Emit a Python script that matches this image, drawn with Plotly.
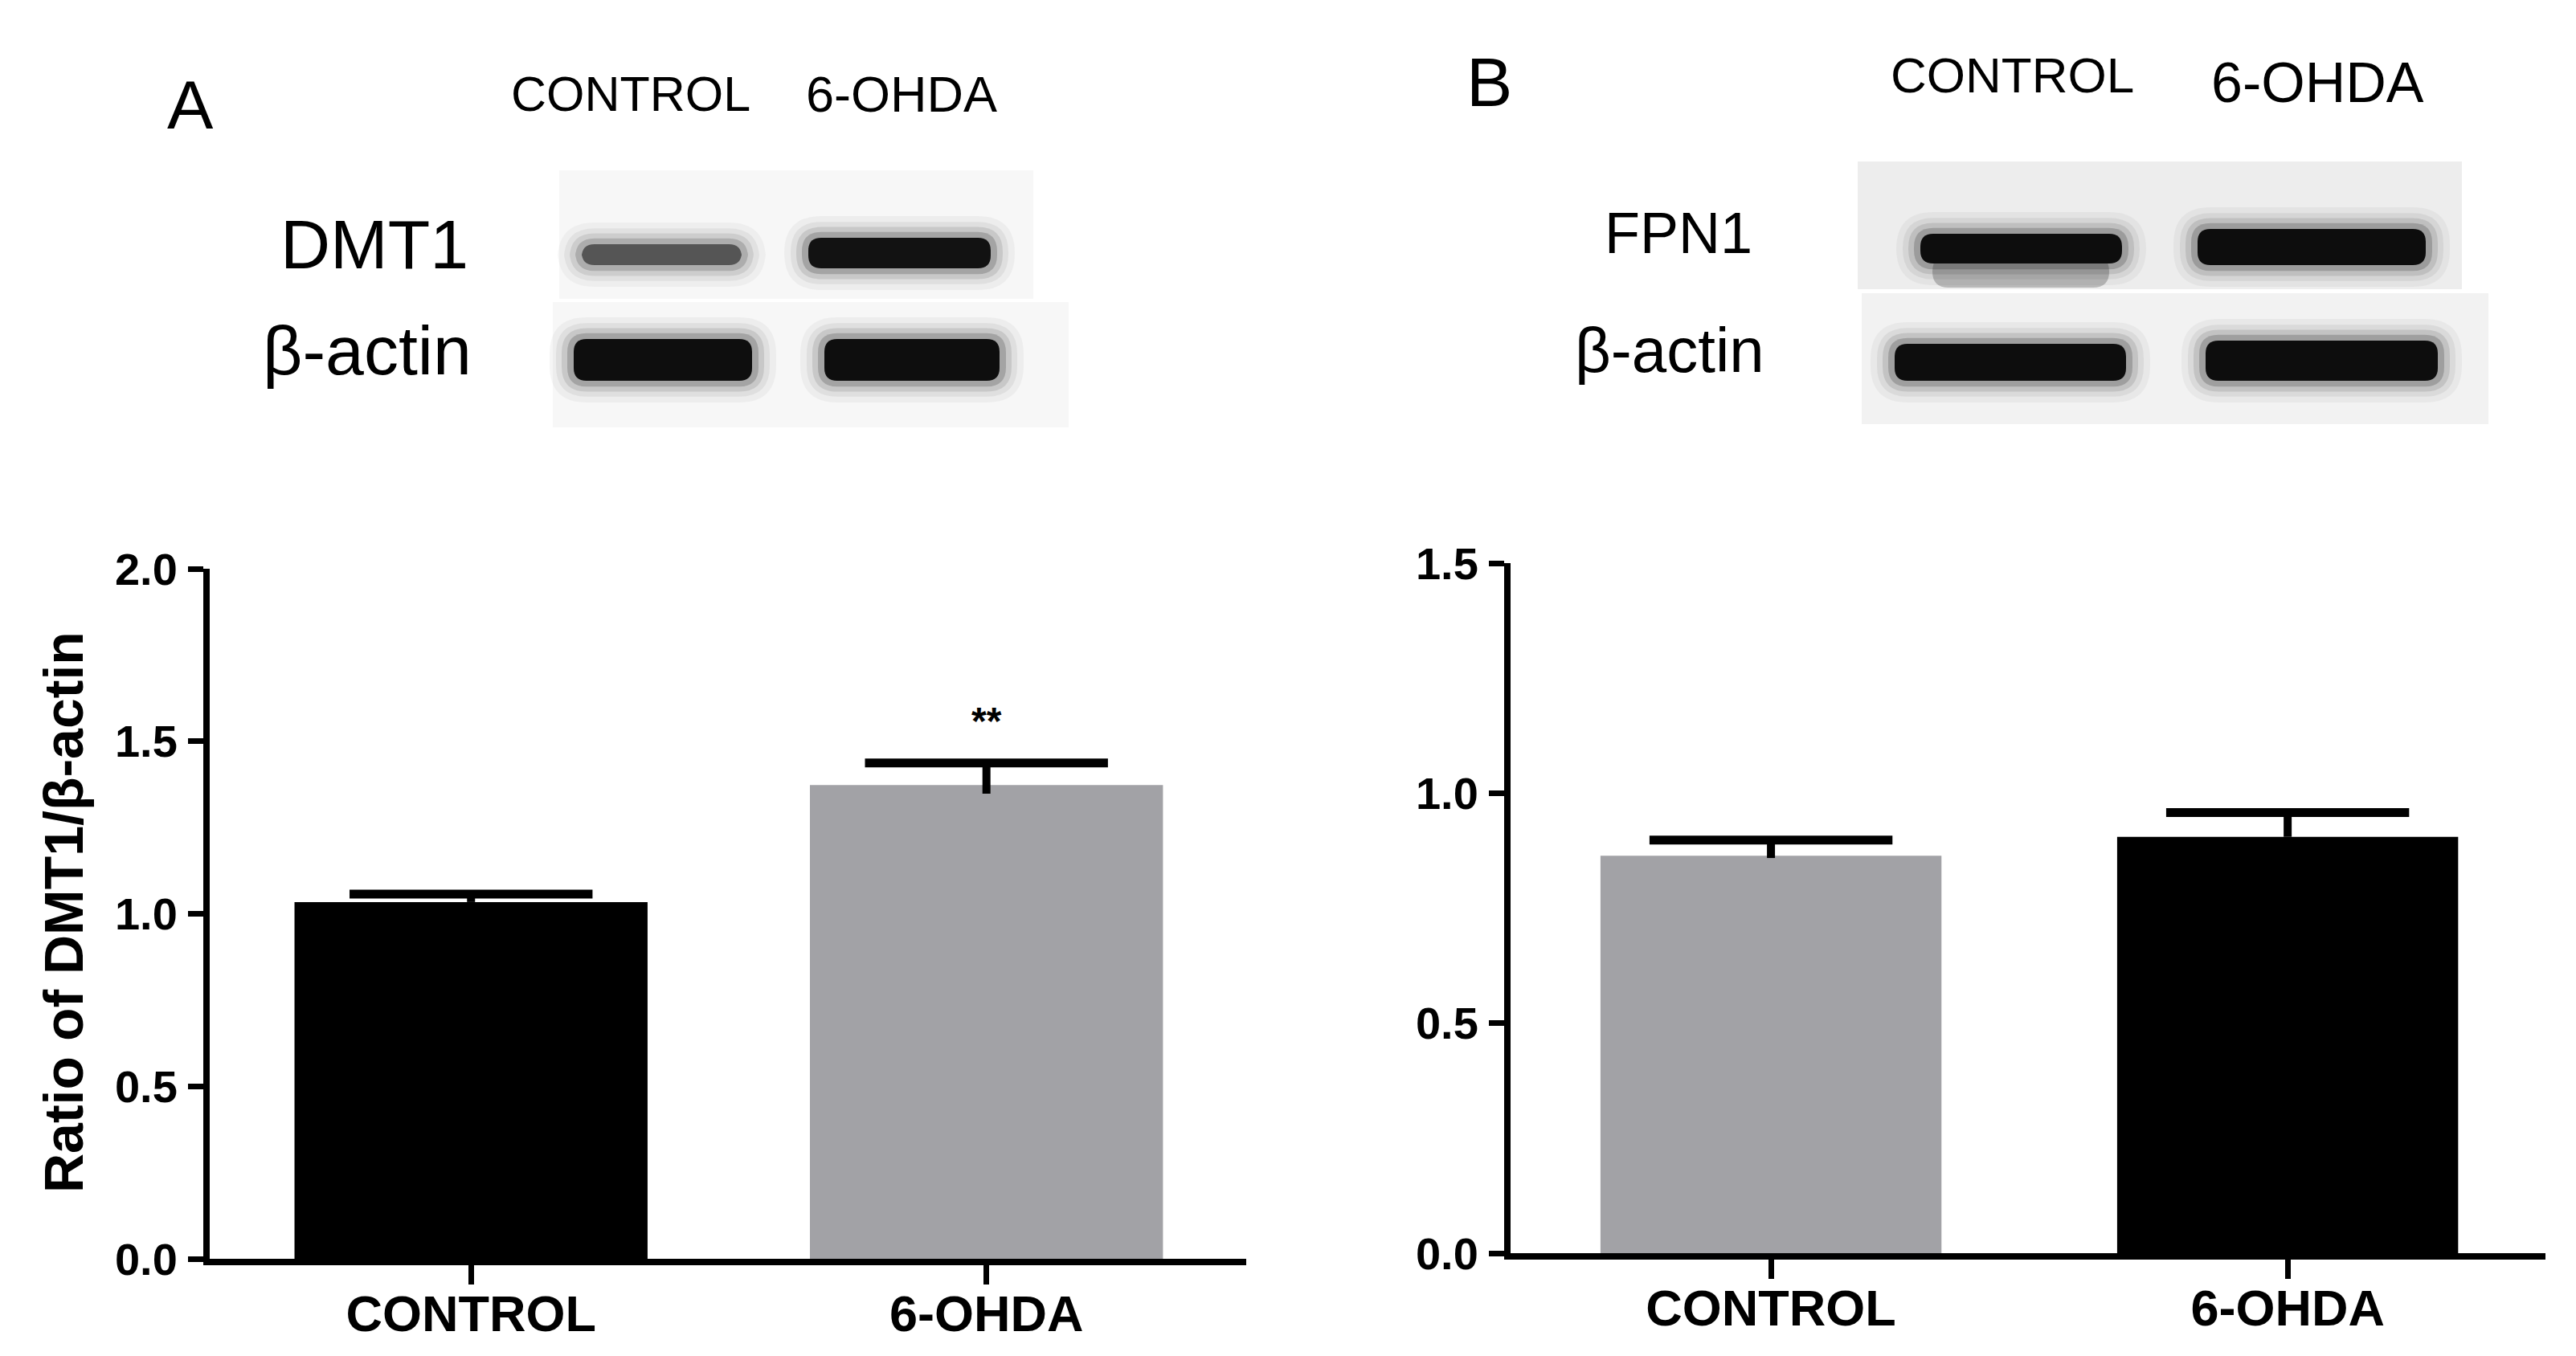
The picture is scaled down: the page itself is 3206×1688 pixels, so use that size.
import plotly.graph_objects as go

W, H = 3206, 1688

# ---------------- data ----------------
categories = ["CONTROL", "6-OHDA"]
dmt1_ratio = [1.034, 1.373]
dmt1_err_plus = [0.023, 0.064]
dmt1_err_below = [0.0, 0.025]     # visible part of the stem below the bar top
fpn1_ratio = [0.864, 0.905]
fpn1_err_plus = [0.034, 0.053]
fpn1_err_below = [0.005, 0.0]
dmt1_ticks = [0.0, 0.5, 1.0, 1.5, 2.0]
fpn1_ticks = [0.0, 0.5, 1.0, 1.5]
significance = ["", "**"]

BLACK = "#000000"
GRAY = "#a2a2a6"
FONT = "Liberation Sans, Arial, sans-serif"


def px(x):
    return x / W


def py(y):
    return 1 - y / H


fig = go.Figure()


def add_panel(vals, plus, below, colors, width, cap_half, xa, ya):
    fig.add_trace(go.Bar(
        x=categories, y=vals, xaxis=xa, yaxis=ya,
        marker=dict(color=colors, line=dict(width=0)),
        width=width, showlegend=False, hoverinfo="skip",
    ))
    tops = [v + p for v, p in zip(vals, plus)]
    fig.add_trace(go.Scatter(
        x=categories, y=tops, xaxis=xa, yaxis=ya, mode="markers",
        marker=dict(symbol="line-ew", size=2 * cap_half,
                    line=dict(width=11, color="black"), color="black"),
        error_y=dict(type="data", symmetric=False, array=[0] * len(vals),
                     arrayminus=[p + b for p, b in zip(plus, below)],
                     color="black", thickness=10, width=0),
        showlegend=False, hoverinfo="skip",
    ))


add_panel(dmt1_ratio, dmt1_err_plus, dmt1_err_below, [BLACK, GRAY], 0.685, 108, "x", "y")
add_panel(fpn1_ratio, fpn1_err_plus, fpn1_err_below, [GRAY, BLACK], 0.66, 108, "x2", "y2")

axis_common = dict(showgrid=False, zeroline=False, showline=True, linecolor="black",
                   linewidth=8, ticks="outside", tickcolor="black", tickwidth=7,
                   automargin=False, fixedrange=True)

fig.update_layout(
    template="none",
    width=W, height=H,
    margin=dict(l=0, r=0, t=0, b=0, pad=0),
    paper_bgcolor="white", plot_bgcolor="white",
    font=dict(family=FONT, color="black"),
    xaxis=dict(domain=[px(261), px(1551)], range=[-0.507, 1.504], anchor="y",
               ticklen=24, tickfont=dict(size=63, weight="bold"), ticklabelstandoff=-18,
               **axis_common),
    yaxis=dict(domain=[py(1567), py(708)], range=[0, 2], anchor="x",
               tickvals=dmt1_ticks, ticktext=[f"{v:.1f}" for v in dmt1_ticks],
               ticklen=19, tickfont=dict(size=56, weight="bold"), ticklabelstandoff=2,
               **axis_common),
    xaxis2=dict(domain=[px(1880), px(3168)], range=[-0.504, 1.499], anchor="y2",
                ticklen=24, tickfont=dict(size=63, weight="bold"), ticklabelstandoff=-18,
                **axis_common),
    yaxis2=dict(domain=[py(1560), py(701)], range=[0, 1.5], anchor="x2",
                tickvals=fpn1_ticks, ticktext=[f"{v:.1f}" for v in fpn1_ticks],
                ticklen=19, tickfont=dict(size=56, weight="bold"), ticklabelstandoff=2,
                **axis_common),
)

# significance marks
for cat, val, err, s in zip(categories, dmt1_ratio, dmt1_err_plus, significance):
    if s:
        fig.add_annotation(x=cat, y=val + err, xref="x", yref="y", text=s,
                           showarrow=False, yanchor="middle", yshift=52,
                           font=dict(size=48, family=FONT, weight="bold"))

# y-axis title
fig.add_annotation(x=px(79), y=py(1136), xref="paper", yref="paper",
                   text="Ratio of DMT1/β-actin", textangle=-90, showarrow=False,
                   xanchor="center", yanchor="middle",
                   font=dict(size=68, family=FONT, weight="bold"))


# ---------------- western blot decoration ----------------
def rrect(x0, y0, x1, y1, r, fill):
    rx, ry = r / W, r / H
    X0, X1 = px(x0), px(x1)
    Y0, Y1 = py(y0), py(y1)
    path = (f"M {X0+rx},{Y0} L {X1-rx},{Y0} Q {X1},{Y0} {X1},{Y0-ry} "
            f"L {X1},{Y1+ry} Q {X1},{Y1} {X1-rx},{Y1} L {X0+rx},{Y1} "
            f"Q {X0},{Y1} {X0},{Y1+ry} L {X0},{Y0-ry} Q {X0},{Y0} {X0+rx},{Y0} Z")
    fig.add_shape(type="path", path=path, xref="paper", yref="paper",
                  fillcolor=fill, line=dict(width=0), layer="above")


def band(x0, y0, x1, y1, core, soft=1.0):
    for d, a in [(30, 0.04), (22, 0.06), (15, 0.1), (8, 0.18)]:
        rrect(x0 - d, y0 - d * 0.9, x1 + d, y1 + d * 0.9, 16 + d, f"rgba(0,0,0,{a*soft:.3f})")
    rrect(x0, y0, x1, y1, 16, core)


# Panel A blots
rrect(696, 212, 1286, 372, 0, "#f7f7f7")
band(724, 304, 923, 330, "#555555", 0.85)
band(1006, 296, 1233, 334, "#121212")
rrect(688, 376, 1330, 532, 0, "#f7f7f7")
band(714, 422, 936, 474, "#0e0e0e")
band(1026, 422, 1244, 474, "#0e0e0e")

# Panel B blots
rrect(2312, 201, 3064, 360, 0, "#ededed")
rrect(2405, 318, 2625, 358, 20, "rgba(0,0,0,0.22)")
band(2390, 291, 2641, 328, "#0d0d0d")
band(2735, 285, 3019, 330, "#0d0d0d")
rrect(2317, 365, 3097, 528, 0, "#f2f2f2")
band(2358, 428, 2646, 474, "#0d0d0d")
band(2745, 424, 3034, 474, "#0d0d0d")

# blot labels
labels = [
    ("A", 237, 130, 86, "center"),
    ("CONTROL", 785, 117, 61, "center"),
    ("6-OHDA", 1122, 117, 63, "center"),
    ("DMT1", 585, 304, 86, "right"),
    ("β-actin", 589, 436, 86, "right"),
    ("B", 1853, 102, 86, "center"),
    ("CONTROL", 2504, 94, 62, "center"),
    ("6-OHDA", 2884, 103, 70, "center"),
    ("FPN1", 2183, 290, 72, "right"),
    ("β-actin", 2198, 436, 78, "right"),
]
for txt, x, y, size, anchor in labels:
    fig.add_annotation(x=px(x), y=py(y), xref="paper", yref="paper", text=txt,
                       showarrow=False, xanchor=anchor, yanchor="middle",
                       font=dict(size=size, family=FONT, color="black"))

fig.write_html("out.html", config={"displayModeBar": False},
               post_script="document.body.style.margin='0';document.body.style.overflow='hidden';")
